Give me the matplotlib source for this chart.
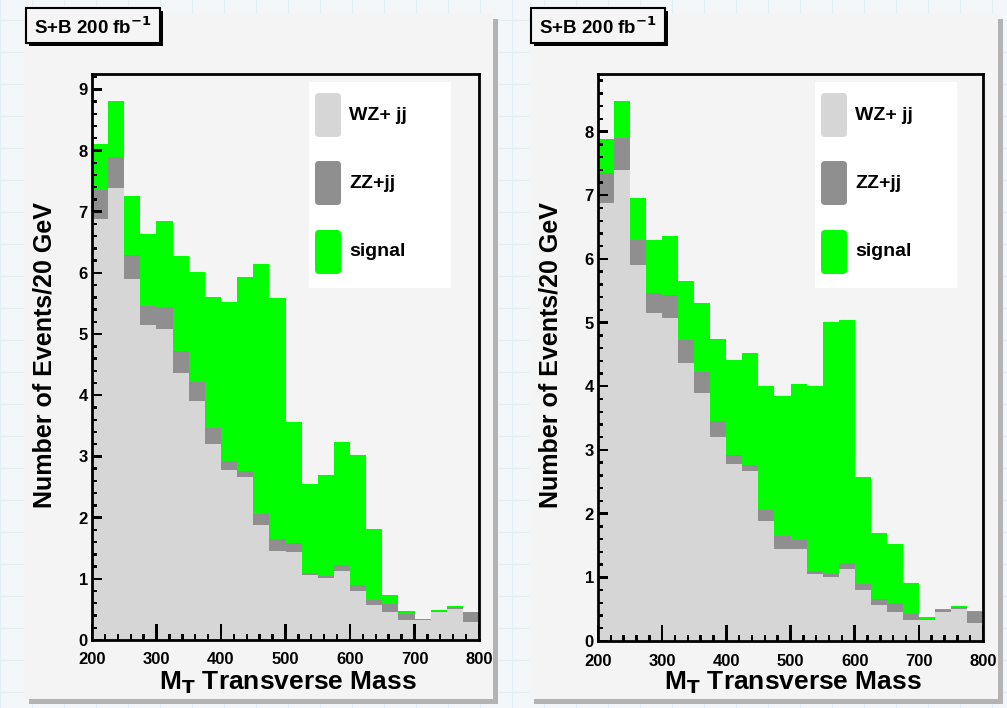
import numpy as np
import matplotlib.pyplot as plt
from matplotlib.patches import Rectangle, FancyBboxPatch

# bins of M_T (GeV)
edges = np.arange(200, 801, 25)

# backgrounds (same in both panels)
wz = [6.88, 7.39, 5.90, 5.15, 5.08, 4.37, 3.90, 3.21, 2.78, 2.67, 1.88, 1.45,
      1.44, 1.06, 1.01, 1.13, 0.80, 0.57, 0.45, 0.33, 0.33, 0.45, 0.51, 0.29]
zz = [0.47, 0.51, 0.40, 0.31, 0.36, 0.36, 0.32, 0.25, 0.14, 0.10, 0.18, 0.20,
      0.14, 0.04, 0.04, 0.09, 0.10, 0.09, 0.14, 0.10, 0.02, 0.03, 0.03, 0.17]

# signal, left and right panel
signal_left = [0.75, 0.91, 0.96, 1.17, 1.41, 1.54, 1.80, 2.14, 2.61, 3.16, 4.09, 3.94,
               1.99, 1.45, 1.65, 2.02, 2.12, 1.15, 0.14, 0.04, 0.00, 0.01, 0.01, 0.00]
signal_right = [0.54, 0.58, 0.66, 0.83, 0.92, 0.92, 1.09, 1.28, 1.50, 1.75, 1.95, 2.19,
                2.45, 2.90, 3.96, 3.82, 1.67, 1.03, 0.94, 0.48, 0.03, 0.02, 0.01, 0.01]

legend_labels = ['WZ+ jj', 'ZZ+jj', 'signal']
colors = ['#d6d6d6', '#8f8f8f', '#00ff00']

W, H = 1007, 708
plt.rcParams['font.family'] = ['Liberation Sans', 'DejaVu Sans']

fig = plt.figure(figsize=(W / 100, H / 100), dpi=100)
fig.patch.set_facecolor('#f3f7fa')


def px(x0, y0, x1, y1):
    return [x0 / W, 1 - y1 / H, (x1 - x0) / W, (y1 - y0) / H]


# background: grid paper + pads with shadow
bg = fig.add_axes([0, 0, 1, 1], zorder=0)
bg.set_xlim(0, W)
bg.set_ylim(H, 0)
bg.axis('off')
for g in np.arange(0, W, 32):
    bg.axvline(g, color='#e2edf4', lw=0.8, zorder=1)
for g in np.arange(20, H, 32):
    bg.axhline(g, color='#e2edf4', lw=0.8, zorder=1)
for x0 in (24, 529):
    bg.add_patch(Rectangle((x0 + 5, 19), 469, 685, color='#b3b3b3', lw=0, zorder=3))
    bg.add_patch(Rectangle((x0, 14), 469, 685, color='#f4f4f4', lw=0, zorder=4))

# overlay for legends, titles, labels and ticks
ov = fig.add_axes([0, 0, 1, 1], zorder=5)
ov.set_xlim(0, W)
ov.set_ylim(H, 0)
ov.axis('off')


def panel(ax_x0, ax_x1, ax_y1, signal, pad_x0):
    ax = fig.add_axes(px(ax_x0, 74, ax_x1, ax_y1), zorder=2)
    ax.set_facecolor('#f4f4f4')
    b1 = np.array(wz)
    b2 = b1 + np.array(zz)
    tot = b2 + np.array(signal)
    ax.stairs(b1, edges, fill=True, color=colors[0], lw=0)
    ax.stairs(b2, edges, baseline=b1, fill=True, color=colors[1], lw=0)
    ax.stairs(tot, edges, baseline=b2, fill=True, color=colors[2], lw=0)
    ymax = 1.05 * tot.max()
    ax.set_xlim(200, 800)
    ax.set_ylim(0, ymax)
    ax.set_xticks(np.arange(200, 801, 100))
    ax.set_yticks(np.arange(0, int(ymax) + 1))
    ax.tick_params(length=0, pad=9)
    ax.tick_params(axis='y', pad=3)
    for lab in ax.get_xticklabels() + ax.get_yticklabels():
        lab.set_fontweight('bold')
        lab.set_fontsize(12)
    for s in ax.spines.values():
        s.set_linewidth(2)

    # ROOT style ticks (inside, left and bottom only), small black bars
    to_ov = ax.transData + ov.transData.inverted()
    for x in np.arange(200, 801, 20):
        ln = 16 if x % 100 == 0 else 6
        (x0, y0), = to_ov.transform([(x, 0)])
        ov.add_patch(Rectangle((x0 - 1.2, y0 - ln), 2.4, ln, color='black',
                               lw=0, zorder=4))
    for k, y in enumerate(np.arange(0, ymax, 0.2)):
        ln = 10 if k % 5 == 0 else 5
        (x0, y0), = to_ov.transform([(200, y)])
        ov.add_patch(Rectangle((x0, y0 - 1.2), ln, 2.4, color='black',
                               lw=0, zorder=4))

    # legend
    lx = ax_x0 + 217
    ov.add_patch(Rectangle((lx, 82), 142, 206, color='white', lw=0))
    for lab, col, yc in zip(legend_labels, colors, [115, 183, 252]):
        ov.add_patch(FancyBboxPatch((lx + 6, yc - 22), 26, 44,
                                    boxstyle='round,pad=0,rounding_size=4',
                                    color=col, lw=0))
        ov.text(lx + 40, yc, lab, fontsize=14, fontweight='bold',
                va='center', ha='left')

    # title box
    tx = pad_x0 + 2
    ov.add_patch(Rectangle((tx + 3, 11), 134, 35, color='black', lw=0))
    ov.add_patch(Rectangle((tx, 8), 134, 35, facecolor='#f5f5f5',
                           edgecolor='black', lw=1.5))
    ov.text(tx + 67, 27, r'S+B 200 fb$^{\mathbf{-1}}$', fontsize=13.5,
            fontweight='bold', ha='center', va='center')

    # axis titles
    ov.text(pad_x0 + 21, 355, 'Number of Events/20 GeV', rotation=90,
            fontsize=18, fontweight='bold', ha='center', va='center')
    ov.text((ax_x0 + ax_x1) / 2 + 2, 683, r'M$_{\mathbf{T}}$ Transverse Mass',
            fontsize=19, fontweight='bold', ha='center', va='center')
    return ax


panel(92, 479, 640, signal_left, 24)
panel(598, 983, 641, signal_right, 529)

fig.savefig('out.png', dpi=100, facecolor=fig.get_facecolor())
